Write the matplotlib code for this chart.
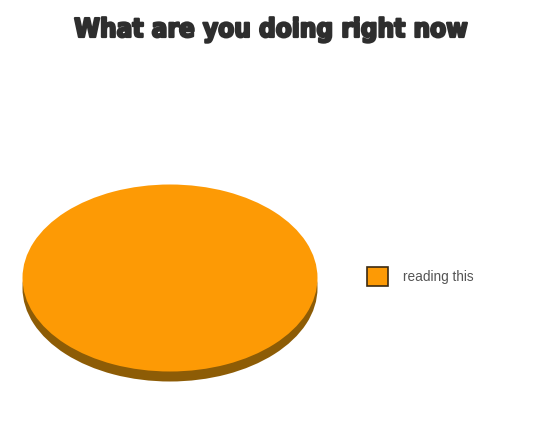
import matplotlib
matplotlib.use("Agg")
import matplotlib.pyplot as plt
import matplotlib.patheffects as pe
from matplotlib.patches import Patch

# data
labels = ["reading this"]
shares = [100]
title = "What are you doing right now"

top_color = "#fd9a05"
side_color = "#8d5c06"

W, H = 550, 444
fig = plt.figure(figsize=(W / 100, H / 100), dpi=100)
fig.patch.set_facecolor("white")

# pie box in pixels: top face 295 x 187, side 10 px deep
px_left, px_bottom, px_w, px_h = 22.5, 62.5, 295, 197
depth = 10 / 93.5
ax = fig.add_axes([px_left / W, px_bottom / H, px_w / W, px_h / H])

# side of the 3d disc, then the top face
ax.pie(shares, colors=[side_color], center=(0, -depth), radius=1,
       startangle=90, counterclock=False)
wedges, _ = ax.pie(shares, colors=[top_color], center=(0, 0), radius=1,
                   startangle=90, counterclock=False)
ax.set_aspect("auto")
ax.set_xlim(-1, 1)
ax.set_ylim(-1 - depth, 1)
ax.axis("off")

handles = [Patch(facecolor=top_color, edgecolor="#3b2a12", linewidth=1.2)]
fig.legend(handles, labels, loc="center left",
           bbox_to_anchor=(367 / W, (H - 276.5) / H),
           frameon=False, borderpad=0, borderaxespad=0,
           handlelength=1.55, handleheight=1.75, handletextpad=1.1,
           prop={"family": ["Liberation Sans", "DejaVu Sans"], "size": 9.8},
           labelcolor="#555555")

fig.text(271.5 / W, (H - 30) / H, title, ha="center", va="center",
         family=["DejaVu Sans"], stretch="condensed", weight="bold",
         size=18.7, color="#2e2e2e",
         path_effects=[pe.withStroke(linewidth=1.6, foreground="#2e2e2e")])

fig.savefig("out.png", dpi=100, facecolor="white")
